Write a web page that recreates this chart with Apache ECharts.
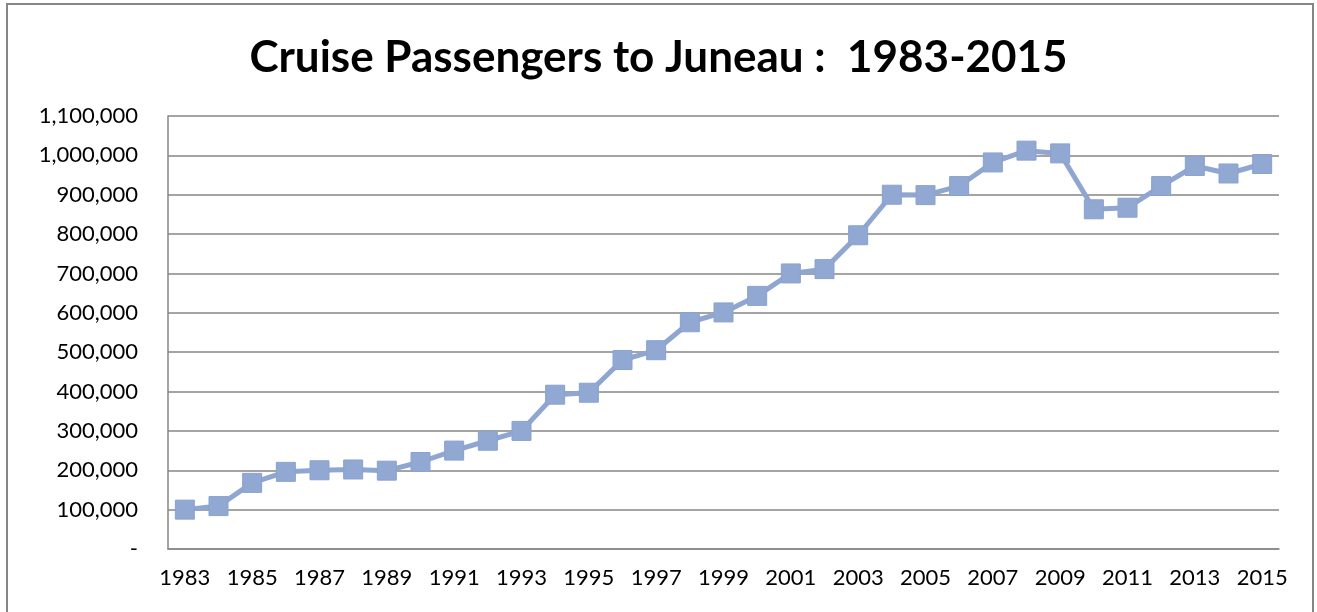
<!DOCTYPE html>
<html>
<head>
<meta charset="utf-8">
<style>
  html, body { margin: 0; padding: 0; background: #fff; }
  #chart { width: 1317px; height: 612px; }
</style>
<script src="https://cdn.jsdelivr.net/npm/echarts@6/dist/echarts.min.js"></script>
</head>
<body>
<div id="chart"></div>
<script>
// passengers per year
const years = ['1983', '1984', '1985', '1986', '1987', '1988', '1989', '1990', '1991', '1992', '1993',
  '1994', '1995', '1996', '1997', '1998', '1999', '2000', '2001', '2002', '2003',
  '2004', '2005', '2006', '2007', '2008', '2009', '2010', '2011', '2012', '2013', '2014', '2015']
const passengers = [100000, 109000, 168000, 196000, 200000, 202000, 199000, 221000, 250000, 275000, 300000,
  392000, 397000, 480000, 505000, 576000, 601000, 643000, 700000, 711000, 797000,
  900000, 899000, 922000, 982000, 1012000, 1005000, 863000, 867000, 922000, 973000, 954000, 978000]

const chartTitle = 'Cruise Passengers to Juneau :  1983-2015'
const gray = '#868686'

function withCommas(v) {
  if (v === 0) return '-'
  return String(v).replace(/\B(?=(\d{3})+(?!\d))/g, ',')
}

const chart = echarts.init(document.getElementById('chart'))
chart.setOption({
  animation: false,
  graphic: [{
    type: 'rect',
    shape: { x: 7, y: 4, width: 1306, height: 620 },
    style: { fill: 'none', stroke: gray, lineWidth: 2 },
    silent: true
  }],
  title: {
    text: chartTitle,
    left: 'center',
    top: 31,
    textStyle: {
      fontFamily: 'Lato',
      fontWeight: 'bold',
      fontSize: 44,
      color: '#000'
    }
  },
  grid: {
    left: 168,
    right: 38,
    top: 116,
    bottom: 63
  },
  xAxis: {
    type: 'category',
    data: years,
    boundaryGap: true,
    axisLine: { lineStyle: { color: gray, width: 1.5 } },
    axisTick: { alignWithLabel: true, interval: 0, length: 6, lineStyle: { color: gray, width: 1.5 } },
    axisLabel: {
      interval: 1,
      margin: 18,
      fontFamily: 'Lato',
      fontSize: 22,
      color: '#000'
    }
  },
  yAxis: {
    type: 'value',
    min: 0,
    max: 1100000,
    interval: 100000,
    axisLine: { show: true, lineStyle: { color: gray, width: 1.5 } },
    axisTick: { show: false },
    splitLine: { lineStyle: { color: gray, width: 1.5 } },
    axisLabel: {
      margin: 30,
      fontFamily: 'Lato',
      fontSize: 22,
      color: '#000',
      formatter: withCommas
    }
  },
  series: [{
    type: 'line',
    data: passengers,
    symbol: 'rect',
    symbolSize: 19,
    lineStyle: { color: '#8fa6d1', width: 5 },
    itemStyle: { color: '#91a8d2', borderColor: '#8aa2cf', borderWidth: 1 }
  }]
})
</script>
</body>
</html>
